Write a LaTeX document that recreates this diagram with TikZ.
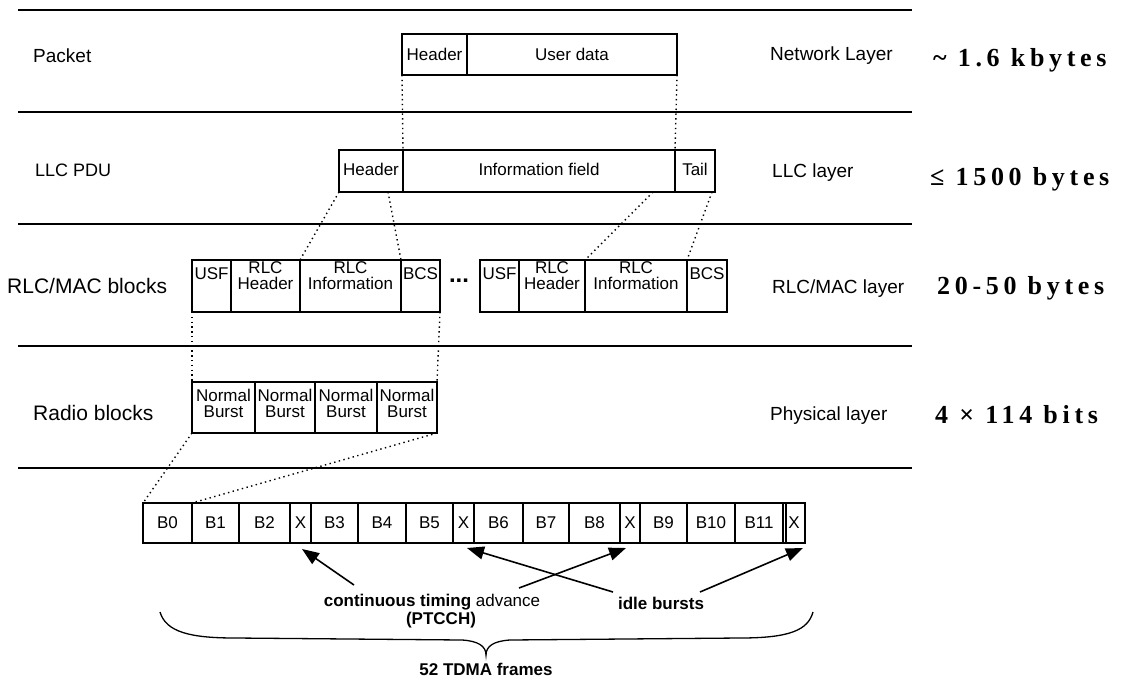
\documentclass[tikz,border=0pt]{standalone}
\usepackage{fontspec}
\setmainfont{Liberation Sans}
\newfontfamily\bigserif[LetterSpace=18]{Liberation Serif}
\usetikzlibrary{arrows.meta,calc}
\newcommand{\fsz}[2]{\fontsize{#1pt}{#2pt}\selectfont}
\newcommand{\bx}[7]{%
  \node[box, minimum width={(#3-#2)*1pt}, minimum height={(#5-#4)*1pt}] (#1) at ({(#2+#3)/2},{(#4+#5)/2}) {};
  \node[boxtext] at ($(#1.center)+(0,#7)$) {#6};}
\begin{document}
\begin{tikzpicture}[x=1pt,y=-1pt,
  box/.style={draw, line width=1.1pt, inner sep=0pt, outer sep=0pt},
  boxtext/.style={font=\fsz{17}{16}, align=center, inner sep=0pt},
  sepline/.style={line width=1.5pt},
  dotline/.style={line width=1.4pt, dash pattern=on 1.4pt off 3.4pt},
  lab/.style={anchor=base west, inner sep=0pt},
  arr/.style={line width=1.6pt, -{Triangle[length=17pt,width=13pt]}},
  btxt/.style={font=\fsz{17}{19}\bfseries, inner sep=0pt},
  bigtxt/.style={anchor=base west, inner sep=0pt, font=\fsz{26}{28}\bigserif\bfseries}
]
\useasboundingbox (0,0) rectangle (1132,680);

% separator lines
\foreach \yy in {10,112,224,346,468} \draw[sepline] (18,\yy) -- (912,\yy);

% left labels
\node[lab, font=\fsz{19}{21}] (lpacket) at (33,62) {Packet};
\node[lab, font=\fsz{18}{20}] (lllc) at (35,176) {LLC PDU};
\node[lab, font=\fsz{21}{23}] (lrlc) at (7,293) {RLC/MAC blocks};
\node[lab, font=\fsz{21}{23}] (lradio) at (33,420) {Radio blocks};

% right labels
\node[lab, font=\fsz{19}{21}] (rnet) at (770,60) {Network Layer};
\node[lab, font=\fsz{19}{21}] (rllc) at (772,177) {LLC layer};
\node[lab, font=\fsz{19}{21}] (rrlc) at (772,293) {RLC/MAC layer};
\node[lab, font=\fsz{19}{21}] (rphy) at (770,420) {Physical layer};

% sizes
\node[bigtxt] (s1) at (933,66) {\textasciitilde{} 1.6 kbytes};
\node[bigtxt] (s2) at (930,185) {≤ 1500 bytes};
\node[bigtxt] (s3) at (937,294) {20-50 bytes};
\node[bigtxt] (s4) at (935,423) {4 × 114 bits};

% packet row
\bx{ph}{402}{467}{34}{75}{Header}{0}
\bx{pu}{467}{677}{34}{75}{User data}{0}

% LLC row
\bx{lh}{339}{403}{150}{192}{Header}{-2}
\bx{li}{403}{675}{150}{192}{Information field}{-2}
\bx{lt}{675}{715}{150}{192}{Tail}{-2}

% RLC/MAC row
\bx{u1}{192}{231}{260}{312}{USF}{-12}
\bx{h1}{231}{300}{260}{312}{RLC\\Header}{-10}
\bx{i1}{300}{401}{260}{312}{RLC\\Information}{-10}
\bx{b1}{401}{440}{260}{312}{BCS}{-12}
\node[font=\fsz{24}{24}\bfseries, inner sep=0pt] (dots) at (459,281) {...};
\bx{u2}{480}{519}{260}{312}{USF}{-12}
\bx{h2}{519}{585}{260}{312}{RLC\\Header}{-10}
\bx{i2}{585}{687}{260}{312}{RLC\\Information}{-10}
\bx{b2}{687}{727}{260}{312}{BCS}{-12}

% radio row
\bx{n1}{192}{255}{382}{433}{Normal\\Burst}{-4}
\bx{n2}{255}{315}{382}{433}{Normal\\Burst}{-4}
\bx{n3}{315}{377}{382}{433}{Normal\\Burst}{-4}
\bx{n4}{377}{437}{382}{433}{Normal\\Burst}{-4}

% frame row
\foreach \a/\b/\t [count=\i from 0] in {143/192/B0,192/239/B1,239/290/B2,290/311/X,311/358/B3,358/406/B4,406/453/B5,453/474/X,474/523/B6,523/569/B7,569/620/B8,620/640/X,640/687/B9,687/735/B10,735/783/B11,783/805/X}{
  \bx{f\i}{\a}{\b}{503}{543}{\t}{0}
}
\draw[line width=1.1pt] ($(f14.north east)+(3,0)$) -- ($(f14.south east)+(3,0)$);

% dotted mapping lines
\draw[dotline] (ph.south west) -- (li.north west);
\draw[dotline] (pu.south east) -- (lt.north west);
\draw[dotline] (lh.south west) -- (h1.north east);
\draw[dotline] ($(lh.south east)+(-15,0)$) -- (i1.north east);
\draw[dotline] ($(li.south east)+(-22,0)$) -- (h2.north east);
\draw[dotline] ($(lt.south east)+(-3,0)$) -- (i2.north east);
\draw[dotline] (u1.south west) -- (n1.north west);
\draw[dotline] (b1.south east) -- (n4.north east);
\draw[dotline] (n1.south west) -- (f0.north west);
\draw[dotline] (n4.south east) -- (f1.north west);

% bottom texts
\node[btxt] (ct) at (432,602) {continuous timing {\mdseries advance}};
\node[btxt] (pt) at (441,620) {(PTCCH)};
\node[btxt] (ib) at (661,603) {idle bursts};
\node[btxt] (tdma) at (486,669) {52 TDMA frames};

% arrows
\coordinate (a1s) at (354,585);
\coordinate (a1e) at (302,549);
\coordinate (a2s) at (613,592);
\coordinate (a2e) at (467,548);
\coordinate (a3s) at (519,588);
\coordinate (a3e) at (626,548);
\coordinate (a4s) at (700,592);
\coordinate (a4e) at (803,548);
\draw[arr] (a1s) -- (a1e);
\draw[arr] (a2s) -- (a2e);
\draw[arr] (a3s) -- (a3e);
\draw[arr] (a4s) -- (a4e);

% brace
\draw[line width=1.3pt] (160,612) .. controls (166,632) and (190,638) .. (235,638)
  -- (462,640) .. controls (478,641) and (486,646) .. (486,655)
  .. controls (486,646) and (494,641) .. (510,640)
  -- (740,638) .. controls (790,638) and (808,630) .. (813,612);
\end{tikzpicture}
\end{document}
